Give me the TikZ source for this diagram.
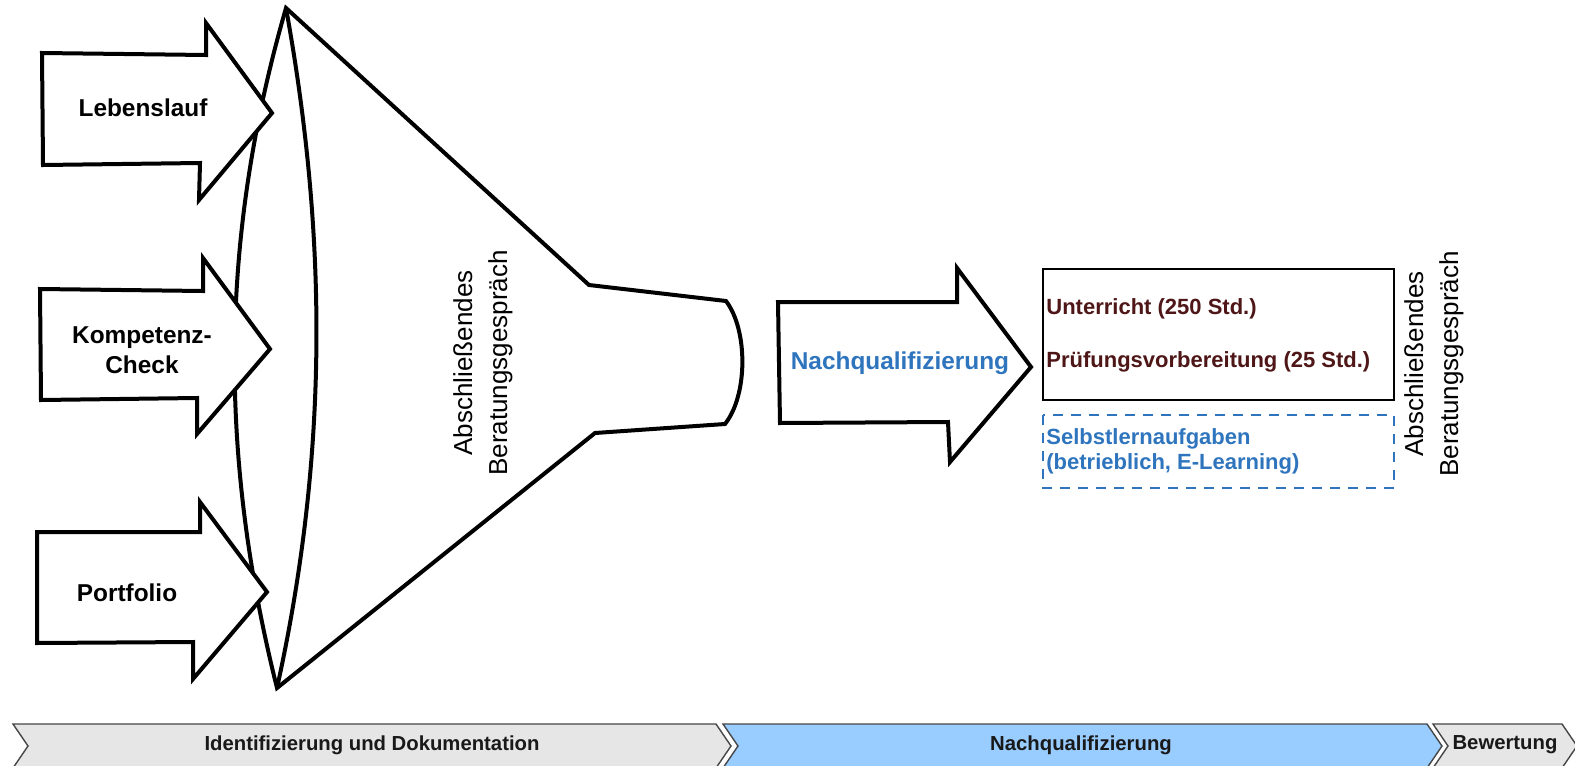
\documentclass[tikz,border=0pt]{standalone}
\usepackage{fontspec}
\setmainfont{Liberation Sans}
\definecolor{qblue}{RGB}{46,117,190}
\definecolor{darkred}{RGB}{78,22,22}
\definecolor{barblue}{RGB}{153,204,255}
\definecolor{bargray}{RGB}{230,230,230}
\definecolor{barline}{RGB}{70,70,70}
\begin{document}
\begin{tikzpicture}[x=0.5pt,y=-0.5pt,
  outl/.style={draw=black,line width=2pt,line join=miter},
  blockarrow/.style={outl,fill=white},
  arrowlbl/.style={font=\fontsize{12.2}{15}\selectfont\bfseries,align=center,inner sep=0pt},
  vlbl/.style={font=\fontsize{13}{17.5}\selectfont,align=center,rotate=90,inner sep=0pt},
  boxlbl/.style={font=\fontsize{11}{12.5}\selectfont\bfseries,align=left,anchor=west,inner sep=0pt},
  barseg/.style={draw=barline,line width=0.7pt,line join=miter},
  barlbl/.style={font=\fontsize{10.15}{12}\selectfont\bfseries,text=black!90,inner sep=0pt}]
\useasboundingbox (0,0) rectangle (1575,766);

% funnel with lens
\draw[outl] (286,8) -- (589,285) -- (726,301)
  .. controls (748,330) and (748,395) .. (725,424)
  -- (595,433) -- (277,688)
  .. controls (219,456) and (219,240) .. (286,8) -- cycle;
\draw[outl] (286,8) .. controls (328,240) and (328,456) .. (277,688);

% input arrows
\draw[blockarrow] (42,53) -- (206,55) -- (206,23) -- (272,113) -- (199,200) -- (200,163) -- (43,165) -- cycle;
\draw[blockarrow] (40,289) -- (203,291) -- (203,258) -- (270,349) -- (197,434) -- (197,398) -- (41,400) -- cycle;
\draw[blockarrow] (37,532) -- (200,532) -- (200,502) -- (267,592) -- (193,679) -- (193,642) -- (37,643) -- cycle;
\node[arrowlbl] (leb) at (143,108) {Lebenslauf};
\node[arrowlbl] (komp) at (142,350) {Kompetenz-\\Check};
\node[arrowlbl] (port) at (127,593) {Portfolio};

% vertical label in funnel
\node[vlbl] (abs1) at (483,363) {Abschließendes\\Beratungsgespräch};

% Nachqualifizierung arrow
\draw[blockarrow] (778,302) -- (957,302) -- (957,268) -- (1031,367) -- (950,462) -- (948,422) -- (780,423) -- cycle;
\node[arrowlbl,text=qblue] (nq) at (900,363) {Nachqualifizierung};

% boxes
\draw[black,line width=0.75pt] (1043,269) rectangle (1394,400);
\node[boxlbl,text=darkred] (unt) at (1046,309) {Unterricht (250 Std.)};
\node[boxlbl,text=darkred] (pruef) at (1046,362) {Prüfungsvorbereitung (25 Std.)};
\draw[qblue,line width=0.75pt,dash pattern=on 5pt off 4pt] (1043,415) rectangle (1394,488);
\node[boxlbl,text=qblue] (selbst) at (1046,451) {Selbstlernaufgaben\\(betrieblich, E-Learning)};

\node[vlbl] (abs2) at (1434,364) {Abschließendes\\Beratungsgespräch};

% bottom bar
\draw[barseg,fill=bargray] (13,724) -- (716,724) -- (731,746) -- (716,768) -- (13,768) -- (28,746) -- cycle;
\draw[barseg,fill=barblue] (723,724) -- (1427,724) -- (1442,746) -- (1427,768) -- (723,768) -- (738,746) -- cycle;
\draw[barseg,fill=bargray] (1433,724) -- (1562,724) -- (1577,746) -- (1562,768) -- (1433,768) -- (1448,746) -- cycle;
\node[barlbl] (b1) at (372,745) {Identifizierung und Dokumentation};
\node[barlbl] (b2) at (1081,745) {Nachqualifizierung};
\node[barlbl] (b3) at (1505,745) {Bewertung};
\end{tikzpicture}
\end{document}
